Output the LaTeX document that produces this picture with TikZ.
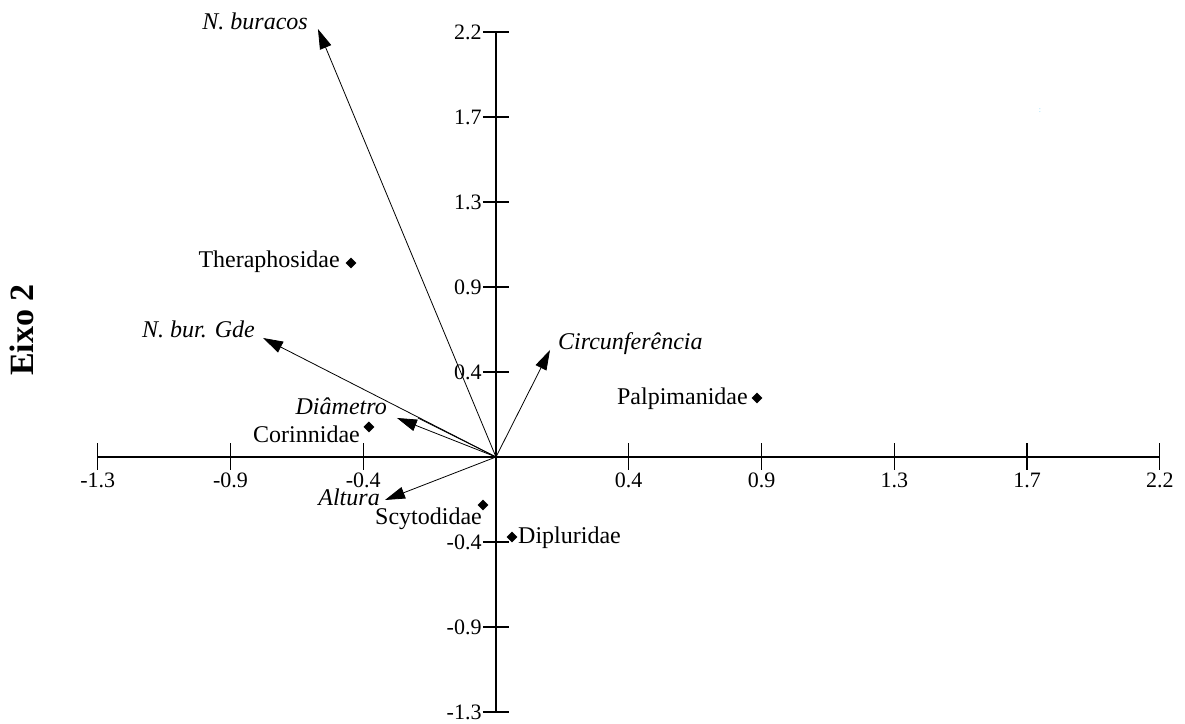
\documentclass[tikz,border=0pt]{standalone}
\usepackage{fontspec}
\setmainfont{Liberation Serif}
\usetikzlibrary{arrows.meta,shapes.geometric}

\begin{document}
\begin{tikzpicture}[x=132.75pt, y=85pt,
  every node/.style={font=\fontsize{24}{28}\selectfont, inner sep=2pt},
  axisline/.style={line width=1.3pt},
  ticklab/.style={font=\fontsize{22}{26}\selectfont, inner sep=1pt},
  vec/.style={-{Triangle[length=20pt,width=12pt]}, line width=0.8pt},
  varlab/.style={font=\fontsize{24}{28}\selectfont\itshape},
  famdot/.style={diamond, fill=black, inner sep=0pt, minimum size=11pt}]
  \useasboundingbox (-3.736,-3.141) rectangle (5.190,5.376);

  % axes
  \coordinate (o) at (0,0);
  \draw[axisline] (-3,0) -- (5,0);
  \draw[axisline] (0,-3) -- (0,5);
  \foreach \i/\lab in {-3/-1.3,-2/-0.9,-1/-0.4,1/0.4,2/0.9,3/1.3,4/1.7,5/2.2}{
    \draw[axisline] (\i,-0.15) -- (\i,0.17);
    \node[ticklab,anchor=north] at (\i,-0.17) {\lab};
    \draw[axisline] (-0.098,\i) -- (0.098,\i);
    \node[ticklab,anchor=east] at (-0.1,\i) {\lab};
  }
  \node[rotate=90,font=\fontsize{34}{40}\selectfont\bfseries] (eixo) at (-3.571,1.494) {Eixo 2};
  \node[text=cyan!50,font=\fontsize{8}{9}\selectfont] (mark) at (4.098,4.071) {:};

  % variables
  \coordinate (nbur) at (-1.341,5.035);
  \coordinate (nbgde) at (-1.755,1.400);
  \coordinate (diam) at (-0.746,0.459);
  \coordinate (diamb) at (-0.588,0.459);
  \coordinate (alt) at (-0.836,-0.506);
  \coordinate (circ) at (0.407,1.259);
  \draw[vec] (o) -- (nbur);
  \draw[vec] (o) -- (nbgde);
  \draw[vec] (o) -- (diam);
  \draw[line width=0.8pt] (o) -- (diamb);
  \draw[vec] (o) -- (alt);
  \draw[vec] (o) -- (circ);
  \node[varlab,anchor=base east] (nburlab) at (-1.401,5.024) {N. buracos};
  \node[varlab,anchor=base east] (nbgdelab) at (-1.800,1.400) {N. bur. Gde};
  \node[varlab,anchor=base east] (diamlab) at (-0.806,0.494) {Diâmetro};
  \node[varlab,anchor=base east] (altlab) at (-0.859,-0.565) {Altura};
  \node[varlab,anchor=base west] (circlab) at (0.452,1.259) {Circunferência};

  % families
  \node[famdot] (ther) at (-1.092,2.282) {};
  \node[famdot] (palp) at (1.966,0.694) {};
  \node[famdot] (cori) at (-0.957,0.353) {};
  \node[famdot] (scyt) at (-0.098,-0.565) {};
  \node[famdot] (dipl) at (0.121,-0.941) {};
  \node[anchor=base east] (therlab) at (-1.160,2.224) {Theraphosidae};
  \node[anchor=base east] (palplab) at (1.913,0.612) {Palpimanidae};
  \node[anchor=base east] (corilab) at (-1.009,0.176) {Corinnidae};
  \node[anchor=base east] (scytlab) at (-0.090,-0.800) {Scytodidae};
  \node[anchor=base west] (dipllab) at (0.151,-1.012) {Dipluridae};
\end{tikzpicture}
\end{document}
